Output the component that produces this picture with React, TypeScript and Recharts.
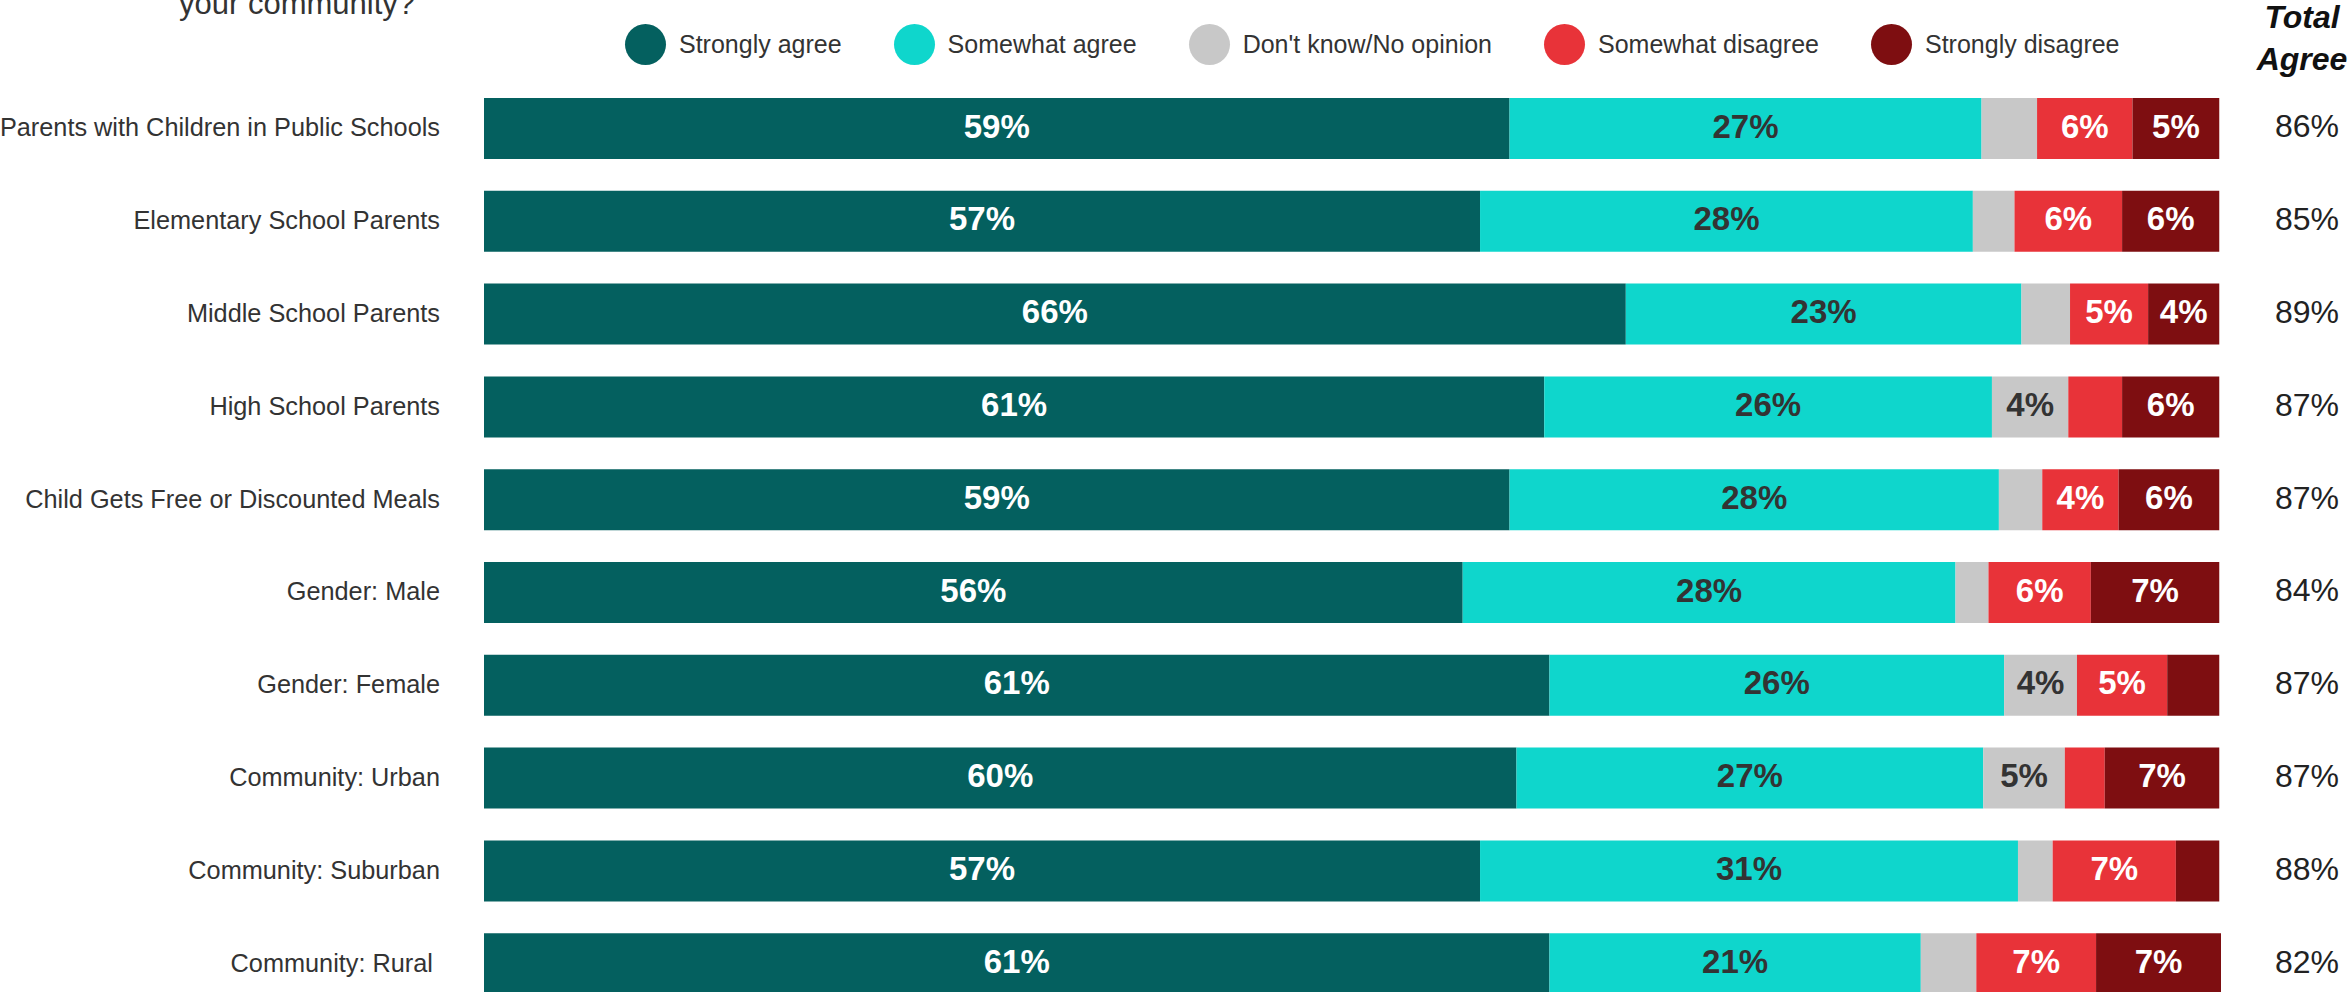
import React from 'react'
import { BarChart, Bar, XAxis, YAxis, Legend, LabelList } from 'recharts'

const categories = [
  'Parents with Children in Public Schools',
  'Elementary School Parents',
  'Middle School Parents',
  'High School Parents',
  'Child Gets Free or Discounted Meals',
  'Gender: Male',
  'Gender: Female',
  'Community: Urban',
  'Community: Suburban',
  'Community: Rural ',
]

const stronglyAgree = [59.1, 57.4, 65.8, 61.1, 59.1, 56.4, 61.4, 59.5, 57.4, 61.4]
const somewhatAgree = [27.2, 28.4, 22.8, 25.8, 28.2, 28.4, 26.2, 26.9, 31.0, 21.4]
const dontKnow = [3.2, 2.4, 2.8, 4.4, 2.5, 1.9, 4.2, 4.7, 2.0, 3.2]
const somewhatDisagree = [5.5, 6.2, 4.5, 3.1, 4.4, 5.9, 5.2, 2.3, 7.1, 6.9]
const stronglyDisagree = [5.0, 5.6, 4.1, 5.6, 5.8, 7.4, 3.0, 6.6, 2.5, 7.2]
const totalAgree = ['86%', '85%', '89%', '87%', '87%', '84%', '87%', '87%', '88%', '82%']

const series = [
  { key: 'sa', name: 'Strongly agree', color: '#04605f', text: '#ffffff' },
  { key: 'swa', name: 'Somewhat agree', color: '#0fd6cc', text: '#333333' },
  { key: 'dk', name: "Don't know/No opinion", color: '#c8c8c8', text: '#333333' },
  { key: 'swd', name: 'Somewhat disagree', color: '#e83339', text: '#ffffff' },
  { key: 'sd', name: 'Strongly disagree', color: '#7e0e11', text: '#ffffff' },
]

const data = categories.map((name, i) => ({
  name,
  total: totalAgree[i],
  sa: stronglyAgree[i],
  swa: somewhatAgree[i],
  dk: dontKnow[i],
  swd: somewhatDisagree[i],
  sd: stronglyDisagree[i],
}))

const FONT = '"Liberation Sans", Arial, sans-serif'

function renderLegend() {
  return (
    <div style={{ position: 'relative', width: 2349, height: 82, fontFamily: FONT }}>
      <div
        style={{
          position: 'absolute',
          left: 97,
          top: -14,
          width: 400,
          textAlign: 'center',
          fontSize: 31,
          lineHeight: '36px',
          color: '#333',
          whiteSpace: 'nowrap',
        }}
      >
        your community?
      </div>
      <div
        style={{
          position: 'absolute',
          left: 625,
          top: 24,
          display: 'flex',
          alignItems: 'center',
          gap: 52,
          height: 41,
        }}
      >
        {series.map((s) => (
          <div key={s.key} style={{ display: 'flex', alignItems: 'center' }}>
            <div style={{ width: 41, height: 41, borderRadius: '50%', background: s.color, marginRight: 13 }} />
            <span style={{ fontSize: 25, color: '#333', whiteSpace: 'nowrap' }}>{s.name}</span>
          </div>
        ))}
      </div>
      <div
        style={{
          position: 'absolute',
          left: 2227,
          top: -4,
          width: 150,
          textAlign: 'center',
          fontSize: 32,
          lineHeight: '42px',
          fontWeight: 700,
          fontStyle: 'italic',
          color: '#111',
        }}
      >
        Total
        <br />
        Agree
      </div>
    </div>
  )
}

const CategoryTick = (props: any) => {
  const { x, y, payload } = props
  return (
    <text x={x} y={y + 8} textAnchor="end" fontSize={25.3} fill="#333" fontFamily={FONT} style={{ whiteSpace: 'pre' }}>
      {payload.value}
    </text>
  )
}

const TotalTick = (props: any) => {
  const { x, y, index } = props
  return (
    <text x={x} y={y + 9} textAnchor="middle" fontSize={32} fill="#222" fontFamily={FONT}>
      {totalAgree[index]}
    </text>
  )
}

const makeLabel = (textColor: string) => (props: any) => {
  const { x, y, width, height, value } = props
  if (value < 3.5) return null
  return (
    <text
      x={x + width / 2}
      y={y + height / 2 + 9}
      textAnchor="middle"
      fontSize={33}
      fontWeight={700}
      fill={textColor}
      fontFamily={FONT}
    >
      {Math.round(value)}%
    </text>
  )
}

export default function App() {
  return (
    <div style={{ position: 'absolute', left: 0, top: 0, width: 2349, height: 1010, background: '#fff' }}>
      <BarChart
        width={2349}
        height={1010}
        data={data}
        layout="vertical"
        margin={{ top: 0, right: 0, bottom: 0, left: 0 }}
        barSize={61}
      >
        <XAxis type="number" domain={[0, 100]} hide />
        <YAxis
          yAxisId="left"
          type="category"
          dataKey="name"
          width={484}
          axisLine={false}
          tickLine={false}
          tickSize={0}
          tickMargin={44}
          interval={0}
          tick={<CategoryTick />}
        />
        <YAxis
          yAxisId="right"
          orientation="right"
          type="category"
          dataKey="name"
          width={128}
          axisLine={false}
          tickLine={false}
          tickSize={0}
          tickMargin={86}
          interval={0}
          tick={<TotalTick />}
        />
        <Legend
          verticalAlign="top"
          content={renderLegend}
          wrapperStyle={{ top: 0, left: 0, width: 2349, height: 82 }}
        />
        {series.map((s) => (
          <Bar
            key={s.key}
            yAxisId="left"
            dataKey={s.key}
            name={s.name}
            stackId="a"
            fill={s.color}
            isAnimationActive={false}
          >
            <LabelList dataKey={s.key} content={makeLabel(s.text)} />
          </Bar>
        ))}
      </BarChart>
    </div>
  )
}
